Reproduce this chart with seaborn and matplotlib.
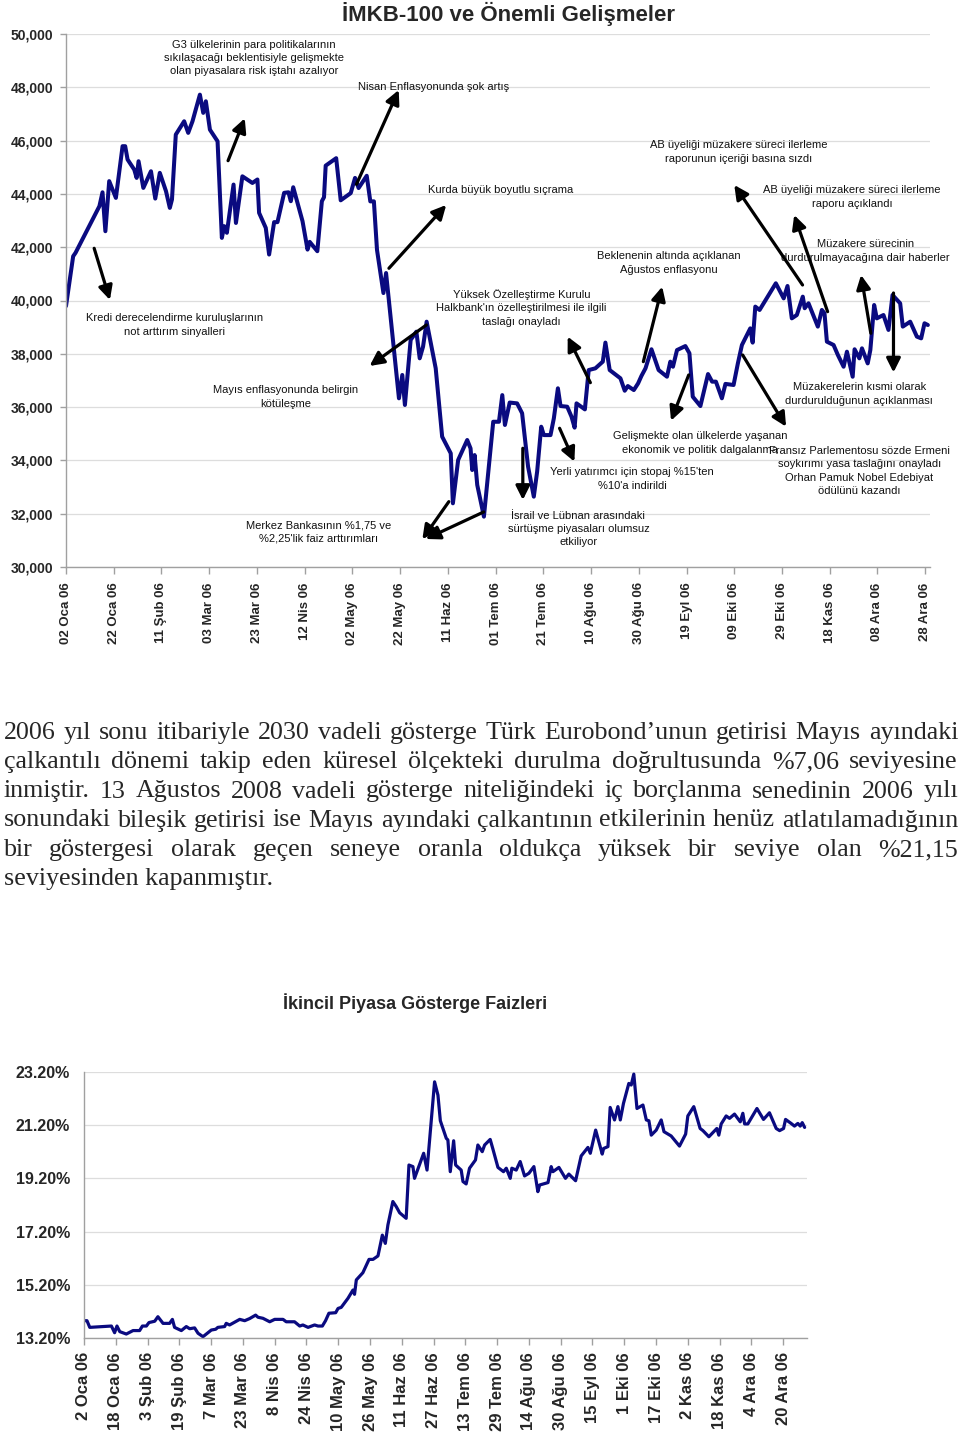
import numpy as np
import pandas as pd
import matplotlib
matplotlib.use("Agg")
import matplotlib.pyplot as plt
import seaborn as sns

# ---------------- DATA ----------------
# İMKB-100 (days after 02 Jan 2006, index value)
imkb_day = [0, 3, 4, 14, 15.3, 16.5, 18.1, 20.9, 23.7, 24.8,
            25.8, 28.6, 29.6, 30.4, 32.4, 35.6, 37.4, 39.3, 41.9, 43.5,
            44.4, 46, 49.5, 51.2, 53, 56.1, 57.5, 58.6, 60.3, 63.5,
            65.3, 66.3, 67.4, 70.2, 71.2, 73.9, 78.1, 80.2, 80.9, 83.7,
            85.1, 87.2, 88.6, 91.4, 93.2, 94.2, 95.2, 99.1, 101.2, 102.1,
            105.3, 107.2, 108.1, 108.8, 113.2, 115.1, 119.3, 121.1, 122.6, 126,
            127.5, 129, 130.3, 133, 134.1, 139.5, 140.9, 142, 144.4, 146.8,
            148.2, 149.6, 151.1, 154.9, 157.6, 161.2, 162.1, 164.3, 168.1, 169.5,
            170.2, 171.2, 172.3, 175.1, 179, 181.4, 182.8, 183.9, 185.9, 189,
            191.1, 193.6, 196, 197.4, 199.1, 200.2, 203, 204.4, 206.1, 207.2,
            210, 211.8, 213.1, 213.9, 217.4, 218.6, 219, 221.8, 224.9, 226,
            227.8, 232.3, 234.1, 235.4, 237.9, 239.7, 241.1, 242.8, 245.3, 248.3,
            251.8, 253.2, 254.3, 256, 259.5, 261.2, 262.6, 265.8, 269, 270.7,
            272.3, 274.8, 276.3, 279.7, 281.5, 283.2, 286.7, 287.7, 288.8, 290.6,
            297.4, 300.7, 302.3, 304.1, 306.2, 308.7, 309.5, 311.1, 315, 316.7,
            317.8, 318.8, 321.6, 323.4, 325.8, 327.2, 329.6, 330.4, 332.4, 333.5,
            335.9, 337, 338.6, 339.7, 342.5, 344.6, 346.3, 349.5, 350.6, 353.7,
            356.5, 358.3, 359.7, 361.1]
imkb_val = [39790, 41660, 41790, 43540, 44060, 42600, 44480, 43850, 45790, 45790,
            45290, 44910, 44600, 45225, 44225, 44850, 43825, 44790, 44100, 43475,
            43790, 46225, 46725, 46290, 46725, 47725, 47040, 47475, 46410, 45975,
            42350, 42790, 42540, 44350, 42910, 44660, 44410, 44540, 43290, 42725,
            41725, 42940, 42940, 44040, 44060, 43725, 44250, 42975, 41910, 42200,
            41850, 43725, 43875, 45060, 45340, 43760, 44030, 44600, 44220, 44680,
            43720, 43720, 41900, 40280, 41030, 36330, 37205, 36080, 38520, 38830,
            37830, 38270, 39205, 37455, 34890, 34265, 32390, 34015, 34765, 34450,
            33640, 34200, 33080, 31890, 35450, 35450, 36450, 35330, 36170, 36140,
            35770, 33765, 32640, 33580, 35265, 34950, 34950, 35580, 36705, 36040,
            36015, 35640, 35230, 36140, 35915, 37015, 37390, 37455, 37705, 38420,
            37390, 37080, 36615, 36790, 36640, 36890, 37170, 37455, 38170, 37390,
            37140, 37705, 37515, 38140, 38290, 38020, 36390, 36040, 37240, 36955,
            36955, 36330, 36870, 36830, 37640, 38330, 38955, 38420, 39770, 39645,
            40645, 40080, 40545, 39330, 39455, 40145, 39710, 39895, 39020, 39645,
            39520, 38455, 38330, 37955, 37515, 38080, 37140, 38170, 37830, 38205,
            37640, 38140, 39830, 39330, 39455, 38895, 40205, 39895, 39020, 39205,
            38645, 38580, 39145, 39080]
imkb_tick_days = list(range(0, 361, 20))
imkb_tick_labels = ['02 Oca 06', '22 Oca 06', '11 Şub 06', '03 Mar 06', '23 Mar 06',
                    '12 Nis 06', '02 May 06', '22 May 06', '11 Haz 06', '01 Tem 06',
                    '21 Tem 06', '10 Ağu 06', '30 Ağu 06', '19 Eyl 06', '09 Eki 06',
                    '29 Eki 06', '18 Kas 06', '08 Ara 06', '28 Ara 06']
imkb_yticks = list(range(30000, 50001, 2000))

# Benchmark bond yield (days after 02 Jan 2006, %)
bond_day = [0, 1.5, 2.9, 13.8, 15.4, 16.6, 18, 21.3, 24.7, 28,
            29.4, 31.4, 32.7, 35.6, 37.2, 39.8, 43.1, 44.5, 45.6, 49,
            51.5, 53.2, 55.7, 57.4, 59.9, 64.1, 66.3, 67.4, 70.8, 71.6,
            73.3, 78.4, 80.9, 83.4, 86.4, 87.6, 90.1, 93.5, 96, 100.2,
            101.8, 106, 108.6, 110.2, 112.8, 116.1, 117.8, 120, 121.6, 123.3,
            126.7, 127.9, 129.5, 132.9, 135.4, 136.2, 137.1, 140.4, 143.5, 145.5,
            148, 150.2, 151.7, 153, 155.5, 157.2, 158.9, 162.2, 163.6, 165.6,
            166.4, 171, 172.7, 176.5, 178.2, 179.4, 182.4, 183.2, 184.4, 186.1,
            187.1, 189.9, 190.8, 192.4, 194.1, 197.1, 198.3, 200.5, 201.7, 204.5,
            205.9, 208.4, 211.2, 212.6, 214.6, 215.4, 217.6, 219.6, 221.8, 224,
            226.5, 228.5, 229.4, 233.6, 235.2, 236.1, 239.1, 242.4, 244.1, 247.5,
            250.3, 253.7, 254.9, 257.6, 260.9, 261.6, 263.8, 264.9, 267.1, 268.8,
            270, 271.6, 274.3, 275.5, 276.8, 278.4, 281.4, 283.1, 284.4, 285.6,
            288.1, 290.6, 292, 295.6, 299.8, 302.9, 304, 307, 310.2, 311.6,
            314.6, 318.6, 319.6, 320.8, 323.3, 325, 327.5, 330.4, 331.7, 332.6,
            334.2, 338.8, 342.1, 345.1, 346.8, 348.5, 350.2, 352.2, 353.2, 356,
            357.7, 359.4, 360.6, 361.6, 362.8]
bond_val = [13.86, 13.86, 13.61, 13.66, 13.41, 13.66, 13.45, 13.36, 13.49, 13.49,
            13.66, 13.66, 13.79, 13.84, 14.01, 13.76, 13.76, 13.91, 13.61, 13.49,
            13.64, 13.56, 13.59, 13.39, 13.26, 13.51, 13.54, 13.61, 13.64, 13.76,
            13.70, 13.91, 13.86, 13.94, 14.07, 13.99, 13.95, 13.82, 13.91, 13.91,
            13.82, 13.82, 13.66, 13.70, 13.61, 13.70, 13.66, 13.66, 13.86, 14.14,
            14.16, 14.32, 14.36, 14.70, 15.01, 14.85, 15.39, 15.66, 16.16, 16.16,
            16.29, 17.07, 16.76, 17.45, 18.33, 18.14, 17.91, 17.70, 19.70, 19.64,
            19.20, 20.14, 19.51, 22.82, 22.32, 21.36, 20.70, 20.64, 19.45, 20.61,
            19.70, 19.51, 19.08, 18.99, 19.58, 19.89, 20.45, 20.20, 20.45, 20.66,
            20.29, 19.61, 19.45, 19.58, 19.20, 19.58, 19.51, 19.83, 19.29, 19.39,
            19.64, 18.70, 18.95, 19.04, 19.64, 19.45, 19.61, 19.20, 19.36, 19.11,
            20.04, 20.36, 20.14, 21.01, 20.11, 20.32, 20.39, 21.86, 21.39, 21.89,
            21.39, 22.01, 22.76, 22.70, 23.11, 21.82, 21.95, 21.39, 21.36, 20.82,
            21.01, 21.39, 20.95, 20.79, 20.41, 20.86, 21.54, 21.89, 21.07, 20.99,
            20.76, 21.07, 20.82, 21.24, 21.54, 21.45, 21.61, 21.32, 21.64, 21.24,
            21.24, 21.82, 21.41, 21.66, 21.36, 21.07, 20.99, 21.07, 21.41, 21.26,
            21.16, 21.26, 21.16, 21.29, 21.11]
bond_tick_days = list(range(0, 353, 16))
bond_tick_labels = ['2 Oca 06', '18 Oca 06', '3 Şub 06', '19 Şub 06', '7 Mar 06',
                    '23 Mar 06', '8 Nis 06', '24 Nis 06', '10 May 06', '26 May 06',
                    '11 Haz 06', '27 Haz 06', '13 Tem 06', '29 Tem 06', '14 Ağu 06',
                    '30 Ağu 06', '15 Eyl 06', '1 Eki 06', '17 Eki 06', '2 Kas 06',
                    '18 Kas 06', '4 Ara 06', '20 Ara 06']
bond_yticks = [13.2, 15.2, 17.2, 19.2, 21.2, 23.2]

# Event annotations: (text, text_day, text_value, ha, [(tail_day, tail_val, head_day, head_val), ...])
events = [
    ("G3 ülkelerinin para politikalarının\nsıkılaşacağı beklentisiyle gelişmekte\nolan piyasalara risk iştahı azalıyor",
     78.7, 49100, 'center', [(67.9, 45246, 74.9, 46837)]),
    ("Nisan Enflasyonunda şok artış", 122.2, 48011, 'left', [(121.7, 44361, 139.4, 47899)]),
    ("AB üyeliği müzakere süreci ilerleme\nraporunun içeriği basına sızdı", 281.7, 45573, 'center',
     [(308.6, 40582, 280.0, 44334)]),
    ("Kurda büyük boyutlu sıçrama", 151.5, 44147, 'left', [(135.3, 41209, 159.3, 43584)]),
    ("AB üyeliği müzakere süreci ilerleme\nraporu açıklandı", 329.4, 43884, 'center',
     [(319.1, 39581, 305.1, 43209)]),
    ("Müzakere sürecinin\ndurdurulmayacağına dair haberler", 334.9, 41858, 'center',
     [(337.2, 38770, 333.1, 40958)]),
    ("Beklenenin altında açıklanan\nAğustos enflasyonu", 252.4, 41408, 'center',
     [(241.9, 37705, 249.8, 40519)]),
    ("Yüksek Özelleştirme Kurulu\nHalkbank'ın özelleştirilmesi ile ilgili\ntaslağı onayladı", 190.9, 39720, 'center',
     [(219.7, 36917, 210.2, 38643)]),
    ("Kredi derecelendirme kuruluşlarının\nnot arttırım sinyalleri", 45.6, 39082, 'center',
     [(11.8, 41959, 18.4, 40020)]),
    ("Mayıs enflasyonunda belirgin\nkötüleşme", 92.1, 36380, 'center', [(151.0, 39082, 127.2, 37543)]),
    ("Müzakerelerin kısmi olarak\ndurdurulduğunun açıklanması", 332.4, 36493, 'center',
     [(346.7, 40282, 346.7, 37299)]),
    ("Gelişmekte olan ülkelerde yaşanan\nekonomik ve politik dalgalanma", 265.8, 34654, 'center',
     [(260.9, 37206, 253.5, 35491)]),
    ("Fransız Parlementosu sözde Ermeni\nsoykırımı yasa taslağını onayladı\nOrhan Pamuk Nobel Edebiyat\nödülünü kazandı",
     332.4, 33604, 'center', [(283.5, 37956, 301.7, 35266)]),
    ("Yerli yatırımcı için stopaj %15'ten\n%10'a indirildi", 237.3, 33304, 'center',
     [(206.8, 35206, 213.0, 33953)]),
    ("Merkez Bankasının %1,75 ve\n%2,25'lik faiz arttırımları", 105.9, 31315, 'center',
     [(160.4, 32452, 149.3, 31041), (175.0, 32065, 150.7, 31052)]),
    ("İsrail ve Lübnan arasındaki\nsürtüşme piyasaları olumsuz\netkiliyor", 214.7, 31427, 'center',
     [(191.4, 34455, 191.4, 32516)]),
]

para_lines = [
    "2006 yıl sonu itibariyle 2030 vadeli gösterge Türk Eurobond’unun getirisi Mayıs ayındaki",
    "çalkantılı dönemi takip eden küresel ölçekteki durulma doğrultusunda %7,06 seviyesine",
    "inmiştir.  13 Ağustos 2008 vadeli gösterge niteliğindeki iç borçlanma senedinin 2006 yılı",
    "sonundaki bileşik getirisi ise Mayıs ayındaki çalkantının etkilerinin henüz atlatılamadığının",
    "bir göstergesi olarak geçen seneye oranla oldukça yüksek bir seviye olan %21,15",
    "seviyesinden kapanmıştır.",
]

# ---------------- STYLE ----------------
sns.set_theme(style="white")
plt.rcParams['font.family'] = ['Liberation Sans', 'DejaVu Sans']

LINE = '#0a0a80'
GRID = '#dddddd'
SPINE = '#a0a0a0'
W, H = 960, 1442
fig = plt.figure(figsize=(W / 100, H / 100), dpi=100)
fig.patch.set_facecolor('white')


def rect(l, t, r, b):
    return [l / W, 1 - b / H, (r - l) / W, (b - t) / H]


def style_axes(ax):
    for s in ['top', 'right']:
        ax.spines[s].set_visible(False)
    for s in ['left', 'bottom']:
        ax.spines[s].set_color(SPINE)
        ax.spines[s].set_linewidth(1.0)
    ax.grid(True, axis='y', color=GRID, linewidth=0.9)
    ax.grid(False, axis='x')
    ax.set_axisbelow(True)
    ax.set_xlabel('')
    ax.set_ylabel('')


# ---------------- TOP CHART ----------------
ax1 = fig.add_axes(rect(66, 34, 930, 567))
df1 = pd.DataFrame({'gun': imkb_day, 'imkb': imkb_val})
sns.lineplot(data=df1, x='gun', y='imkb', ax=ax1, color=LINE, linewidth=2.9, sort=False)
ax1.set_xlim(0, 362)
ax1.set_ylim(30000, 50000)
ax1.set_yticks(imkb_yticks)
ax1.set_yticklabels([f"{v:,.0f}" for v in imkb_yticks], fontsize=10, fontweight='bold')
ax1.set_xticks(imkb_tick_days)
ax1.set_xticklabels(imkb_tick_labels, rotation=90, fontsize=9.5, fontweight='bold')
style_axes(ax1)
ax1.tick_params(axis='x', length=5, width=1, color=SPINE, direction='out', pad=6, bottom=True)
ax1.tick_params(axis='y', length=4, width=1, color=SPINE, direction='out', pad=5, left=True)
fig.text(509 / W, 1 - 14 / H, "İMKB-100 ve Önemli Gelişmeler", ha='center', va='center',
         fontsize=16, fontweight='bold')

for txt, tx, ty, ha, arrows in events:
    ax1.text(tx, ty, txt, ha=ha, va='center', multialignment='center', fontsize=8,
             linespacing=1.4, color='#111111', zorder=5)
    for (t_d, t_v, h_d, h_v) in arrows:
        ax1.annotate('', xy=(h_d, h_v), xytext=(t_d, t_v),
                     arrowprops=dict(arrowstyle='-|>,head_length=0.6,head_width=0.3',
                                     color='black', lw=2.3, shrinkA=0, shrinkB=0,
                                     mutation_scale=14), zorder=6)

# ---------------- PARAGRAPH (justified) ----------------
renderer = fig.canvas.get_renderer()
SERIF = 'Liberation Serif'


def text_w(s, fs):
    t = fig.text(0, 0, s, fontsize=fs, family=SERIF)
    w = t.get_window_extent(renderer=renderer).width
    t.remove()
    return w


left_px, right_px = 4, 958
base_fs = 16
nat = max(text_w(" ".join(l.split()), base_fs) for l in para_lines[:5])
pfs = base_fs * (right_px - left_px) / nat * 0.995
baselines = [739, 768, 797.5, 826.5, 856, 885]
for i, line in enumerate(para_lines):
    yb = 1 - baselines[i] / H
    if i == len(para_lines) - 1:
        fig.text(left_px / W, yb, line, fontsize=pfs, family=SERIF, va='baseline', ha='left')
        continue
    words = line.split()
    widths = [text_w(w_, pfs) for w_ in words]
    gap = (right_px - left_px - sum(widths)) / (len(words) - 1)
    x = left_px
    for w_, wd in zip(words, widths):
        fig.text(x / W, yb, w_, fontsize=pfs, family=SERIF, va='baseline', ha='left')
        x += wd + gap

# ---------------- BOTTOM CHART ----------------
fig.text(415 / W, 1 - 1003 / H, "İkincil Piyasa Gösterge Faizleri", ha='center', va='center',
         fontsize=13, fontweight='bold')
ax2 = fig.add_axes(rect(84, 1071.7, 807, 1338.3))
df2 = pd.DataFrame({'gun': bond_day, 'faiz': bond_val})
sns.lineplot(data=df2, x='gun', y='faiz', ax=ax2, color=LINE, linewidth=2.3, sort=False)
ax2.set_xlim(0, 364)
ax2.set_ylim(13.2, 23.2)
ax2.set_yticks(bond_yticks)
ax2.set_yticklabels([f"{v:.2f}%" for v in bond_yticks], fontsize=11.5, fontweight='bold')
ax2.set_xticks(bond_tick_days)
ax2.set_xticklabels(bond_tick_labels, rotation=90, fontsize=12, fontweight='bold')
style_axes(ax2)
ax2.tick_params(axis='x', length=5, width=1, color=SPINE, direction='out', pad=5, bottom=True)
ax2.tick_params(axis='y', length=0, pad=10, left=False)

fig.savefig("out.png", dpi=100, facecolor='white')
